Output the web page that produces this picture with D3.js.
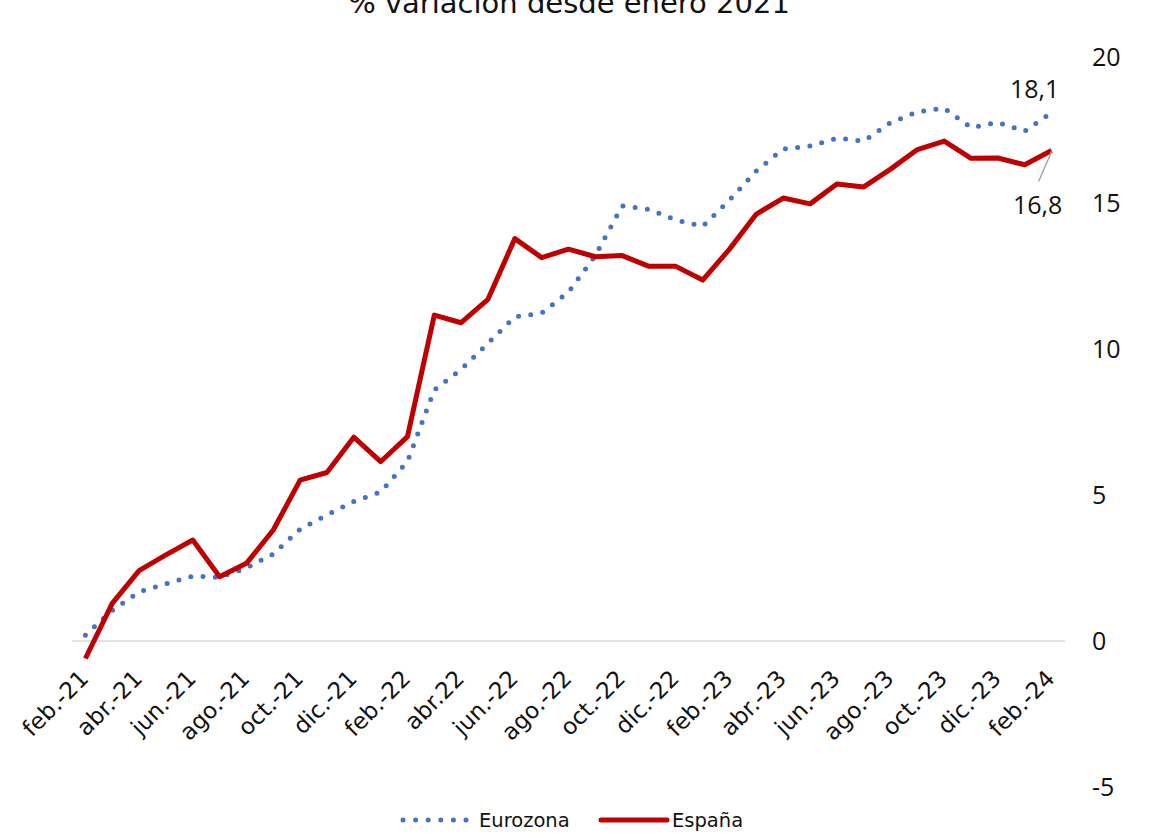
<!DOCTYPE html>
<html>
<head>
<meta charset="utf-8">
<script src="https://cdn.jsdelivr.net/npm/d3@7"></script>
<style>
  body { margin: 0; background: #fff; }
</style>
</head>
<body>
<svg id="chart" width="1153" height="834"></svg>
<script>
// % variación desde enero 2021 - Eurozona vs España
const months = [
  "feb.-21", "mar.-21", "abr.-21", "may.-21", "jun.-21", "jul.-21", "ago.-21",
  "sep.-21", "oct.-21", "nov.-21", "dic.-21", "ene.-22", "feb.-22", "mar.-22",
  "abr.22", "may.-22", "jun.-22", "jul.-22", "ago.-22", "sep.-22", "oct.-22",
  "nov.-22", "dic.-22", "ene.-23", "feb.-23", "mar.-23", "abr.-23", "may.-23",
  "jun.-23", "jul.-23", "ago.-23", "sep.-23", "oct.-23", "nov.-23", "dic.-23",
  "ene.-24", "feb.-24"
];

const eurozona = [
  0.2, 1.05, 1.68, 1.96, 2.22, 2.18, 2.5, 2.98, 3.83, 4.32, 4.78, 5.1, 6.15,
  8.6, 9.3, 10.2, 11.1, 11.23, 11.95, 13.2, 14.9, 14.78, 14.42, 14.2, 15.1,
  16.1, 16.85, 16.95, 17.22, 17.12, 17.75, 18.12, 18.25, 17.58, 17.76, 17.46,
  18.1
];

const espana = [
  -0.6, 1.29, 2.41, 2.95, 3.46, 2.2, 2.66, 3.8, 5.51, 5.77, 6.98, 6.14, 7.0,
  11.16, 10.9, 11.7, 13.78, 13.13, 13.42, 13.16, 13.2, 12.83, 12.83, 12.36,
  13.42, 14.62, 15.17, 14.97, 15.65, 15.55, 16.16, 16.83, 17.12, 16.53, 16.54,
  16.31, 16.8
];

const yTicks = [-5, 0, 5, 10, 15, 20];

const svg = d3.select("#chart");

// plot area (the right axis labels sit outside it)
const plot = { left: 72, right: 1065, top: 57, bottom: 787 };

const x = d3.scalePoint()
  .domain(months)
  .range([plot.left, plot.right])
  .padding(0.5);

const y = d3.scaleLinear()
  .domain([-5, 20])
  .range([plot.bottom, plot.top]);

const blue = "#4472C4";
const red = "#C00000";

// title (partly cut off at the top in the original)
svg.append("text")
  .attr("x", 569)
  .attr("y", 13)
  .attr("text-anchor", "middle")
  .attr("font-family", "DejaVu Sans")
  .attr("font-size", 29)
  .attr("fill", "#111")
  .text("% variación desde enero 2021");

// right y axis, labels only (plain hyphen for negatives)
const yAxis = svg.append("g")
  .attr("transform", `translate(${plot.right + 15},0)`)
  .call(d3.axisRight(y).tickValues(yTicks).tickSize(0).tickPadding(12)
    .tickFormat((d) => String(d)));
yAxis.select(".domain").remove();
yAxis.selectAll("text")
  .attr("font-family", "Open Sans, sans-serif")
  .attr("font-size", 25)
  .attr("fill", "#111");

// x axis at zero, grey line + rotated labels every two months
const xAxis = svg.append("g")
  .attr("transform", `translate(0,${y(0)})`)
  .call(d3.axisBottom(x)
    .tickValues(months.filter((d, i) => i % 2 === 0))
    .tickSize(0));
xAxis.select(".domain")
  .attr("d", `M${plot.left},0H${plot.right}`)
  .attr("stroke", "#d9d9d9")
  .attr("stroke-width", 1.5);
xAxis.selectAll("text")
  .attr("x", 0)
  .attr("y", 0)
  .attr("dy", null)
  .attr("transform", "translate(4,39) rotate(-45)")
  .attr("text-anchor", "end")
  .attr("font-family", "DejaVu Sans")
  .attr("font-size", 23)
  .attr("fill", "#111");

const line = d3.line()
  .x((d, i) => x(months[i]))
  .y((d) => y(d));

// Eurozona (round dots)
svg.append("path")
  .datum(eurozona)
  .attr("d", line)
  .attr("fill", "none")
  .attr("stroke", blue)
  .attr("stroke-width", 5)
  .attr("stroke-linecap", "round")
  .attr("stroke-dasharray", "0 12.3");

// España (solid)
svg.append("path")
  .datum(espana)
  .attr("d", line)
  .attr("fill", "none")
  .attr("stroke", red)
  .attr("stroke-width", 5)
  .attr("stroke-linejoin", "round");

// end labels
const last = months.length - 1;
const fmt = (v) => d3.format(".1f")(v).replace(".", ",");

svg.append("text")
  .attr("x", x(months[last]) - 17)
  .attr("y", y(eurozona[last]) - 14)
  .attr("text-anchor", "middle")
  .attr("font-family", "Open Sans, sans-serif")
  .attr("font-size", 25)
  .attr("fill", "#111")
  .text(fmt(eurozona[last]));

svg.append("line")
  .attr("x1", x(months[last]))
  .attr("y1", y(espana[last]) + 1)
  .attr("x2", x(months[last]) - 13)
  .attr("y2", y(espana[last]) + 31)
  .attr("stroke", "#a6a6a6")
  .attr("stroke-width", 1.5);

svg.append("text")
  .attr("x", x(months[last]) - 14)
  .attr("y", y(espana[last]) + 64)
  .attr("text-anchor", "middle")
  .attr("font-family", "Open Sans, sans-serif")
  .attr("font-size", 25)
  .attr("fill", "#111")
  .text(fmt(espana[last]));

// legend
const legend = svg.append("g")
  .attr("font-family", "DejaVu Sans")
  .attr("font-size", 19.5)
  .attr("fill", "#111");

legend.append("line")
  .attr("x1", 403).attr("x2", 467)
  .attr("y1", 820).attr("y2", 820)
  .attr("stroke", blue)
  .attr("stroke-width", 5)
  .attr("stroke-linecap", "round")
  .attr("stroke-dasharray", "0 12.6");
legend.append("text").attr("x", 479).attr("y", 827).text("Eurozona");

legend.append("line")
  .attr("x1", 601).attr("x2", 667)
  .attr("y1", 820).attr("y2", 820)
  .attr("stroke", red)
  .attr("stroke-width", 5)
  .attr("stroke-linecap", "round");
legend.append("text").attr("x", 672).attr("y", 827).text("España");
</script>
</body>
</html>
